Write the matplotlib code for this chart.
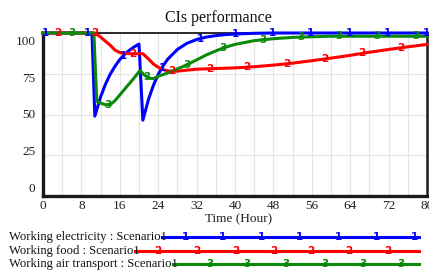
import numpy as np
import matplotlib
matplotlib.use("Agg")
import matplotlib.pyplot as plt
from matplotlib.transforms import blended_transform_factory

plt.rcParams['font.family'] = ['Liberation Serif', 'DejaVu Serif']

# ---------------- data ----------------
title = "CIs performance"
x_label = "Time (Hour)"
x_ticks = [0, 8, 16, 24, 32, 40, 48, 56, 64, 72, 80]
y_ticks = [0, 25, 50, 75, 100]
series_names = ["Working electricity : Scenario1",
                "Working food : Scenario1",
                "Working air transport : Scenario1"]
marker_labels = ["1", "2", "3"]
colors = ["#0000ff", "#ff0000", "#0a8a0a"]

elec_t = [0, 10.2, 10.8, 12, 13, 14, 15, 16, 17, 18, 19, 20, 20.8, 22, 23, 24, 25, 26,
          28, 30, 32, 34, 36, 38, 40, 44, 48, 80]
elec_v = [100, 100, 49, 60.8, 68.5, 74.7, 79.6, 83.7, 86.9, 89.4, 91.5, 93.2, 46.5, 59.5,
          67.9, 74.6, 79.8, 84.0, 89.9, 93.7, 96.0, 97.5, 98.4, 99.0, 99.4, 99.8, 100, 100]

food_t = [0, 10.8, 12, 13, 14, 15, 16, 17, 18, 19, 20, 20.8, 22, 23, 24, 25, 26, 27, 28,
          30, 32, 36, 40, 44, 48, 52, 56, 60, 64, 68, 72, 76, 80]
food_v = [100, 100, 97.5, 95, 92.5, 89.5, 88, 87.5, 87.3, 87.3, 87.3, 87.3, 84, 81, 79,
          77.5, 76.8, 76.5, 76.6, 77.2, 77.8, 78.2, 78.6, 79.3, 80.3, 81.5, 83, 84.6, 86.3,
          88.2, 89.9, 91.5, 93]

air_t = [0, 10.6, 11.2, 12, 13, 14, 15, 16, 17, 18, 19, 20.2, 21, 22, 23, 24, 26, 28, 30,
         32, 34, 36, 38, 40, 44, 48, 52, 56, 60, 80]
air_v = [100, 100, 58, 57, 56, 56, 58.5, 62, 65.5, 69, 72.5, 77, 74.5, 72.3, 72, 73.5,
         75.5, 78, 80.5, 83.5, 86.5, 89, 91.3, 93, 95.3, 96.5, 97.3, 97.7, 98, 98]

# times where the number markers sit on each curve
elec_mark_t = [0.5, 9.2, 16.7, 24.8, 32.7, 40, 47.7, 55.8, 63.8, 71.7, 79.8]
food_mark_t = [3, 10.8, 18.6, 26.8, 34.8, 42.5, 50.7, 58.6, 66.5, 74.6]
air_mark_t = [6, 13.6, 21.6, 30, 37.5, 45.8, 53.8, 61.7, 69.6, 77.6]

series = [(elec_t, elec_v, elec_mark_t), (food_t, food_v, food_mark_t), (air_t, air_v, air_mark_t)]

# ---------------- figure ----------------
W, H = 429, 273
fig = plt.figure(figsize=(W / 100, H / 100), dpi=100)
ax = fig.add_axes([43 / W, 1 - 196 / H, (427 - 43) / W, (196 - 33) / H])

ax.set_xlim(0, 80)
ax.set_ylim(0, 100)
ax.set_xticks(x_ticks)
ax.set_xticks(np.arange(0, 81, 4), minor=True)
ax.set_yticks(y_ticks)
ax.set_yticklabels([])
ax.tick_params(axis='both', which='both', length=0)
ax.tick_params(axis='x', labelsize=9.5, pad=3, colors='#222222')
ax.grid(True, which='both', axis='x', color='#e4e4e4', lw=0.8)
ax.grid(True, which='major', axis='y', color='#e4e4e4', lw=0.8)
ax.set_axisbelow(True)

for side, lw in [('left', 2.4), ('bottom', 2.4), ('top', 1.3), ('right', 1.8)]:
    ax.spines[side].set_linewidth(lw)
    ax.spines[side].set_color('#1a1a1a')

# y labels (spaced slightly tighter than the grid, as in the reference)
ytr = blended_transform_factory(ax.transAxes, ax.transAxes)
for v in y_ticks:
    ax.text(-0.02, 0.043 + 0.902 * v / 100, str(v), transform=ytr, ha='right', va='center',
            fontsize=9.5, color='#222222')

mk_font = dict(family='DejaVu Sans', fontsize=7.5, fontweight='bold', ha='center', va='center')

for (t, v, mt), col, lab in zip(series, colors, marker_labels):
    ax.plot(t, v, color=col, lw=2.2, clip_on=False, zorder=3, solid_joinstyle='round')
    mv = np.interp(mt, t, v)
    for xx, yy in zip(mt, mv):
        ax.text(xx, yy, lab, color=col, zorder=4, clip_on=False, **mk_font)

fig.text(218 / W, 1 - 18 / H, title, ha='center', va='center', fontsize=11.5, color='#111111')
fig.text(239 / W, 1 - 219 / H, x_label, ha='center', va='center', fontsize=9.5, color='#222222')

# ---------------- legend ----------------
lax = fig.add_axes([0, 0, 1, 1], zorder=5)
lax.set_xlim(0, W)
lax.set_ylim(H, 0)
lax.axis('off')
fig.canvas.draw()
rend = fig.canvas.get_renderer()
leg_y = [237, 251, 264]
leg_marks = [[185, 222, 261, 299, 338, 376, 414],
             [158, 197, 236, 274, 311, 349, 388],
             [210, 247, 286, 325, 363, 401]]
for name, col, lab, yy, mk in zip(series_names, colors, marker_labels, leg_y, leg_marks):
    txt = lax.text(9, yy, name, ha='left', va='center', fontsize=9.1, color='#111111')
    bb = txt.get_window_extent(renderer=rend)
    x0 = bb.x1 - 5
    lax.plot([x0, 419], [yy, yy], color=col, lw=2.2)
    for xm in mk:
        lax.text(xm, yy, lab, color=col, **mk_font)

fig.savefig("out.png", dpi=100)
